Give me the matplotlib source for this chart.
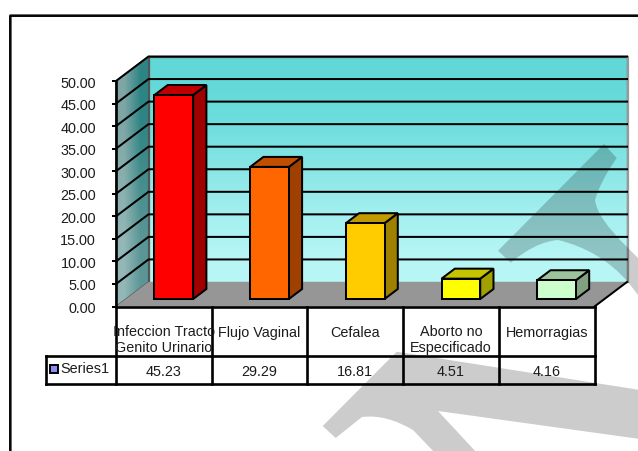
import matplotlib
matplotlib.use('Agg')
import matplotlib.pyplot as plt
from matplotlib.patches import Polygon, PathPatch, Rectangle
from matplotlib.path import Path
from matplotlib.transforms import Affine2D
import numpy as np

# Data
categories = ['Infeccion Tracto\nGenito Urinario', 'Flujo Vaginal', 'Cefalea',
              'Aborto no\nEspecificado', 'Hemorragias']
values = [45.23, 29.29, 16.81, 4.51, 4.16]
value_labels = ['45.23', '29.29', '16.81', '4.51', '4.16']
yticks = [0, 5, 10, 15, 20, 25, 30, 35, 40, 45, 50]
series_name = 'Series1'

# front, top, side colours of each bar
front_colors = ['#ff0000', '#ff6600', '#ffcc00', '#ffff00', '#ccffcc']
top_colors = ['#c00000', '#c05000', '#c09a00', '#c4c400', '#9cc39c']
side_colors = ['#a00000', '#a04000', '#a08000', '#a0a000', '#80a080']

W, H = 638, 451
CAT_PX = 95.7     # pixels per category
VAL_PX = 4.51     # pixels per value unit
X0_PX, Y0_PX = 116, 306.5
DX = 32.5 / CAT_PX   # depth offset, in data units
DY = 24.5 / VAL_PX
BAR_W = 0.404
BAR_D0, BAR_D1 = 0.306, 0.714
ROW1 = -49.2 / VAL_PX
ROW2 = -77.8 / VAL_PX
LEG_X = -70.3 / CAT_PX
TEXT = '#1c1c1c'
LW = 1.45
TABLE_LW = 1.9

plt.rcParams['font.family'] = ['Liberation Sans', 'DejaVu Sans']

fig = plt.figure(figsize=(W / 100, H / 100), dpi=100, facecolor='white')
ax = fig.add_axes([0, 0, 1, 1])
ax.set_axis_off()
xlim = (-X0_PX / CAT_PX, (W - X0_PX) / CAT_PX)
ylim = (-(H - Y0_PX) / VAL_PX, Y0_PX / VAL_PX)


def proj(x, v, d=0.0):
    return (x + d * DX, v + d * DY)


n = len(categories)
vmax = yticks[-1]

# Outer frame runs off the right and bottom of the picture
px = Affine2D().scale(1 / W, -1 / H).translate(0, 1) + fig.transFigure
ax.plot([10, 10, 640], [460, 15, 15], transform=px, color='#555555', lw=2.0, zorder=1, clip_on=False)
ax.plot([10, 10, 640], [460, 15.5, 15.5], transform=px, color='black', lw=1.3, zorder=1, clip_on=False)

# Back wall, gradient
back = [proj(0, 0, 1), proj(n, 0, 1), proj(n, vmax, 1), proj(0, vmax, 1)]
grad = np.array([[0.384, 0.847, 0.847], [0.43, 0.87, 0.87], [0.54, 0.90, 0.90],
                 [0.64, 0.94, 0.94], [0.722, 0.965, 0.965]])[:, None, :]
x_b0, y_b0 = proj(0, 0, 1)
x_b1, y_b1 = proj(n, vmax, 1)
im = ax.imshow(grad, extent=(x_b0, x_b1, y_b0, y_b1), origin='upper', aspect='auto',
               interpolation='bilinear', zorder=2)
im.set_clip_path(Polygon(back, transform=ax.transData))

# Side wall, gradient
side = [proj(0, 0), proj(0, 0, 1), proj(0, vmax, 1), proj(0, vmax)]
side_grad = np.array([[[0.50, 0.65, 0.65], [0.18, 0.52, 0.52]],
                      [[0.58, 0.72, 0.72], [0.36, 0.59, 0.59]]])
x_s0, y_s0 = proj(0, 0)
x_s1, y_s1 = proj(0, vmax, 1)
im2 = ax.imshow(side_grad, extent=(x_s0, x_s1, y_s0, y_s1), origin='upper', aspect='auto',
                interpolation='bilinear', zorder=2)
im2.set_clip_path(Polygon(side, transform=ax.transData))
ax.add_patch(Polygon(side, closed=True, fill=False, ec='#555555', lw=0.9, zorder=2.1))
ax.add_patch(Polygon(back, closed=True, fill=False, ec='#555555', lw=0.9, zorder=2.1))

# Grey shadow on the right of the back wall
xr, yr0 = proj(n, 0, 1)
_, yr1 = proj(n, vmax, 1)
ax.plot([xr + 0.012, xr + 0.012], [yr0, yr1], color='#999999', lw=1.6, zorder=2.2)

# Gridlines, on the side wall and the back wall
for t in yticks:
    p0 = proj(0, t)
    p1 = proj(0, t, 1)
    p2 = proj(n, t, 1)
    if t > 0:
        ax.plot([p0[0], p1[0], p2[0]], [p0[1], p1[1], p2[1]], color='black', lw=LW, zorder=2.5,
                solid_joinstyle='miter')
    ax.plot([p0[0] - 3.5 / CAT_PX, p0[0]], [t, t], color='black', lw=LW, zorder=2.5)
    ax.text(-20 / CAT_PX, t - 2.5 / VAL_PX, f'{t:.2f}', ha='right', va='center', fontsize=10.4, color=TEXT,
            zorder=7)

# Watermark, behind floor and bars
C3 = Path.CURVE3
L = Path.LINETO
wm1 = Path([(604, 144), (616.7, 158), (600, 182), (595, 200), (597, 218), (628, 248), (638, 258), (638, 295),
            (628, 282), (600, 250), (558, 240), (535, 242), (510.7, 262.7), (498, 250.7), (604, 144)],
           [Path.MOVETO, L, C3, L, C3, L, L, L, L, C3, L, C3, L, L, Path.CLOSEPOLY])
wm2 = Path([(322.7, 426), (396.7, 351.7), (640, 390), (640, 439), (438, 411), (477, 453), (435, 453),
            (413, 430), (386, 414), (362, 417), (335.7, 438), (322.7, 426)],
           [Path.MOVETO, L, L, L, L, L, L, L, C3, L, L, Path.CLOSEPOLY])
for wm in (wm1, wm2):
    ax.add_patch(PathPatch(wm, transform=px, fc='black', ec='none', alpha=0.2, zorder=3))

# Floor
floor = [proj(0, 0), proj(n, 0), proj(n, 0, 1), proj(0, 0, 1)]
ax.add_patch(Polygon(floor, closed=True, fc='#969696', ec='none', zorder=4))
p0, p1 = proj(n, 0), proj(n, 0, 1)
ax.plot([p0[0], p1[0]], [p0[1], p1[1]], color='black', lw=LW, zorder=4.5)

# Bars
for i, v in enumerate(values):
    x0 = i + 0.5 - BAR_W / 2
    x1 = i + 0.5 + BAR_W / 2
    fl = [proj(x0, 0, BAR_D0), proj(x1, 0, BAR_D0), proj(x1, v, BAR_D0), proj(x0, v, BAR_D0)]
    tp = [proj(x0, v, BAR_D0), proj(x1, v, BAR_D0), proj(x1, v, BAR_D1), proj(x0, v, BAR_D1)]
    sd = [proj(x1, 0, BAR_D0), proj(x1, 0, BAR_D1), proj(x1, v, BAR_D1), proj(x1, v, BAR_D0)]
    for pts, col in ((sd, side_colors[i]), (tp, top_colors[i]), (fl, front_colors[i])):
        ax.add_patch(Polygon(pts, closed=True, fc=col, ec='black', lw=LW, joinstyle='miter', zorder=5))

# Data table
for i in range(n + 1):
    ax.plot([i, i], [ROW2, vmax if i == 0 else 0], color='black', lw=TABLE_LW, zorder=6,
            solid_capstyle='projecting')
ax.plot([0, n], [0, 0], color='black', lw=TABLE_LW, zorder=6)
ax.plot([LEG_X, n], [ROW1, ROW1], color='black', lw=TABLE_LW, zorder=6)
ax.plot([LEG_X, n], [ROW2, ROW2], color='black', lw=TABLE_LW, zorder=6)
ax.plot([LEG_X, LEG_X], [ROW1, ROW2], color='black', lw=TABLE_LW, zorder=6)

for i, (c, s) in enumerate(zip(categories, value_labels)):
    if '\n' in c:
        ax.text(i + 0.5, -33.8 / VAL_PX, c, ha='center', va='center', fontsize=10.4, color=TEXT,
                linespacing=1.15, zorder=7)
    else:
        ax.text(i + 0.5, -26.3 / VAL_PX, c, ha='center', va='center', fontsize=10.4, color=TEXT, zorder=7)
    ax.text(i + 0.5, -65.2 / VAL_PX, s, ha='center', va='center', fontsize=10.4, color=TEXT, zorder=7)

# Legend key in the table
ax.add_patch(Rectangle((LEG_X + 4.5 / CAT_PX, -66.3 / VAL_PX), 8 / CAT_PX, 8 / VAL_PX, fc='#8c8cf5', ec='black',
                       lw=1.4, zorder=7))
ax.text(LEG_X + 14.5 / CAT_PX, -62.6 / VAL_PX, series_name, ha='left', va='center', fontsize=10.4, color=TEXT,
        zorder=7)

ax.set_xlim(xlim)
ax.set_ylim(ylim)
fig.savefig('out.png', dpi=100)
